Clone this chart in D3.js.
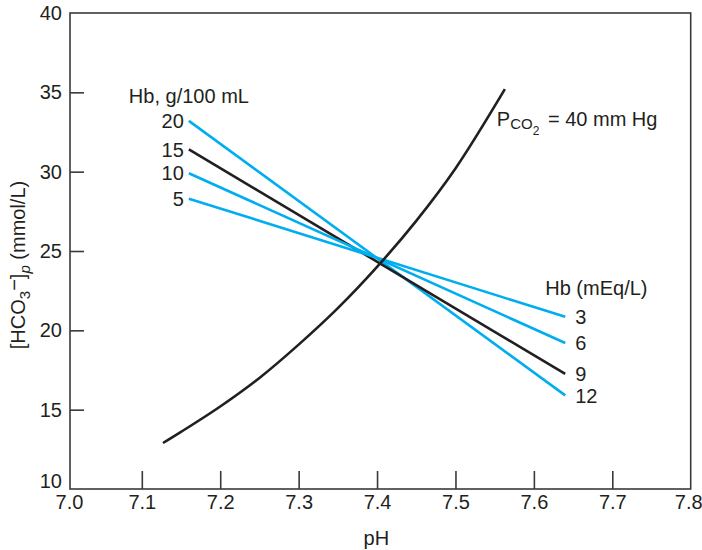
<!DOCTYPE html>
<html>
<head>
<meta charset="utf-8">
<script src="https://cdn.jsdelivr.net/npm/d3@7"></script>
<style>
  html, body { margin: 0; padding: 0; background: #fff; }
  svg { display: block; }
  text { font-family: "Liberation Sans", Arial, sans-serif; fill: #231f20; }
</style>
</head>
<body>
<svg id="chart" width="702" height="550"></svg>
<script>
// ---- data ----
const xTicks = [7.0, 7.1, 7.2, 7.3, 7.4, 7.5, 7.6, 7.7, 7.8];
const yTicks = [10, 15, 20, 25, 30, 35, 40];

// PCO2 = 40 mm Hg isobar: [pH, HCO3]
const isobarPH   = [7.127, 7.15, 7.20, 7.25, 7.30, 7.35, 7.40, 7.45, 7.50, 7.563];
const isobarHCO3 = [12.9, 13.6, 15.2, 17.0, 19.1, 21.4, 24.0, 26.9, 30.2, 35.2];

// buffer lines
const hbGrams  = ["20", "15", "10", "5"];       // Hb, g/100 mL (left labels)
const hbMeq    = ["12", "9", "6", "3"];         // Hb (mEq/L) (right labels)
const lineStartPH = 7.16;
const lineEndPH   = 7.64;
const lineStartHCO3 = [33.2, 31.4, 29.9, 28.3];
const lineEndHCO3   = [15.9, 17.25, 19.2, 20.85];
const lineColors = ["#00aeef", "#231f20", "#00aeef", "#00aeef"];

// ---- layout ----
const svg = d3.select("#chart");
const frame = { left: 70, right: 690.7, top: 13, bottom: 489 };
const x = d3.scaleLinear().domain([7.0, 7.8]).range([63.4, 690.7]);
const y = d3.scaleLinear().domain([10, 40]).range([489, 13]);
const axisColor = "#3a3a3a";
const fontSize = 20;

// frame
svg.append("rect")
  .attr("x", frame.left).attr("y", frame.top)
  .attr("width", frame.right - frame.left).attr("height", frame.bottom - frame.top)
  .attr("fill", "none").attr("stroke", axisColor).attr("stroke-width", 1.6);

// x axis
const gx = svg.append("g")
  .attr("transform", `translate(0,${frame.bottom})`)
  .call(d3.axisBottom(x).tickValues(xTicks).tickFormat(d3.format(".1f"))
        .tickSizeInner(-18).tickSizeOuter(0).tickPadding(6));
gx.select(".domain").remove();
gx.selectAll(".tick line").attr("stroke", axisColor).attr("stroke-width", 1.6)
  .filter(d => d === 7.0 || d === 7.8).remove();
gx.selectAll(".tick text").attr("font-size", fontSize).attr("font-family", null).attr("fill", "#231f20");
gx.selectAll(".tick").filter(d => d === 7.0).select("text").attr("dx", frame.left - x(7.0) - 1);
gx.selectAll(".tick").filter(d => d === 7.8).select("text").attr("dx", -2.5);

// y axis
const gy = svg.append("g")
  .attr("transform", `translate(${frame.left},0)`)
  .call(d3.axisLeft(y).tickValues(yTicks).tickFormat(d3.format("d"))
        .tickSizeInner(-14).tickSizeOuter(0).tickPadding(8));
gy.select(".domain").remove();
gy.selectAll(".tick line").attr("stroke", axisColor).attr("stroke-width", 1.6)
  .filter(d => d === 10 || d === 40).remove();
gy.selectAll(".tick text").attr("font-size", fontSize).attr("font-family", null).attr("fill", "#231f20");
gy.selectAll(".tick").filter(d => d === 10).select("text").attr("dy", "-0.1em");

// axis titles
svg.append("text")
  .attr("x", (frame.left + frame.right) / 2 - 4).attr("y", 545)
  .attr("text-anchor", "middle").attr("font-size", fontSize).text("pH");

const yt = svg.append("text")
  .attr("transform", `translate(25,${(frame.top + frame.bottom) / 2 + 14}) rotate(-90)`)
  .attr("text-anchor", "middle").attr("font-size", fontSize);
yt.append("tspan").text("[HCO");
yt.append("tspan").attr("font-size", 15).attr("dy", 5).text("3");
yt.append("tspan").attr("dy", -9).text("\u2212");
yt.append("tspan").attr("dy", 4).text("]");
yt.append("tspan").attr("font-size", 15).attr("font-style", "italic").attr("dy", 5).text("p");
yt.append("tspan").attr("dy", -5).text(" (mmol/L)");

// buffer lines
const bufData = hbGrams.map((g, i) => ({
  g, m: hbMeq[i], color: lineColors[i],
  pts: [[lineStartPH, lineStartHCO3[i]], [lineEndPH, lineEndHCO3[i]]]
}));
const line = d3.line().x(d => x(d[0])).y(d => y(d[1]));

svg.append("g").selectAll("path").data(bufData).join("path")
  .attr("d", d => line(d.pts))
  .attr("fill", "none").attr("stroke", d => d.color).attr("stroke-width", 2.6);

// isobar curve
const isoPts = isobarPH.map((p, i) => [p, isobarHCO3[i]]);
svg.append("path")
  .attr("d", d3.line().x(d => x(d[0])).y(d => y(d[1])).curve(d3.curveCatmullRom)(isoPts))
  .attr("fill", "none").attr("stroke", "#231f20").attr("stroke-width", 2.6);

// left labels
svg.append("g").selectAll("text").data(bufData).join("text")
  .attr("x", x(lineStartPH) - 5).attr("y", d => y(d.pts[0][1]))
  .attr("dy", "0.36em").attr("text-anchor", "end").attr("font-size", fontSize)
  .text(d => d.g);
svg.append("text")
  .attr("x", x(lineStartPH) - 60).attr("y", y(lineStartHCO3[0]) - 18)
  .attr("font-size", fontSize).text("Hb, g/100 mL");

// right labels
svg.append("g").selectAll("text").data(bufData).join("text")
  .attr("x", x(lineEndPH) + 10).attr("y", d => y(d.pts[1][1]))
  .attr("dy", "0.36em").attr("text-anchor", "start").attr("font-size", fontSize)
  .text(d => d.m);
svg.append("text")
  .attr("x", x(lineEndPH) - 20).attr("y", y(lineEndHCO3[3]) - 22)
  .attr("font-size", fontSize).text("Hb (mEq/L)");

// PCO2 label
const endPt = isoPts[isoPts.length - 1];
const pl = svg.append("text")
  .attr("x", x(endPt[0]) - 8).attr("y", y(endPt[1]) + 37)
  .attr("font-size", fontSize);
pl.append("tspan").text("P");
pl.append("tspan").attr("font-size", 15).attr("dy", 3).text("CO");
pl.append("tspan").attr("font-size", 12).attr("dy", 6).text("2");
pl.append("tspan").attr("dx", 3).attr("dy", -9).text(" = 40 mm Hg");
</script>
</body>
</html>
